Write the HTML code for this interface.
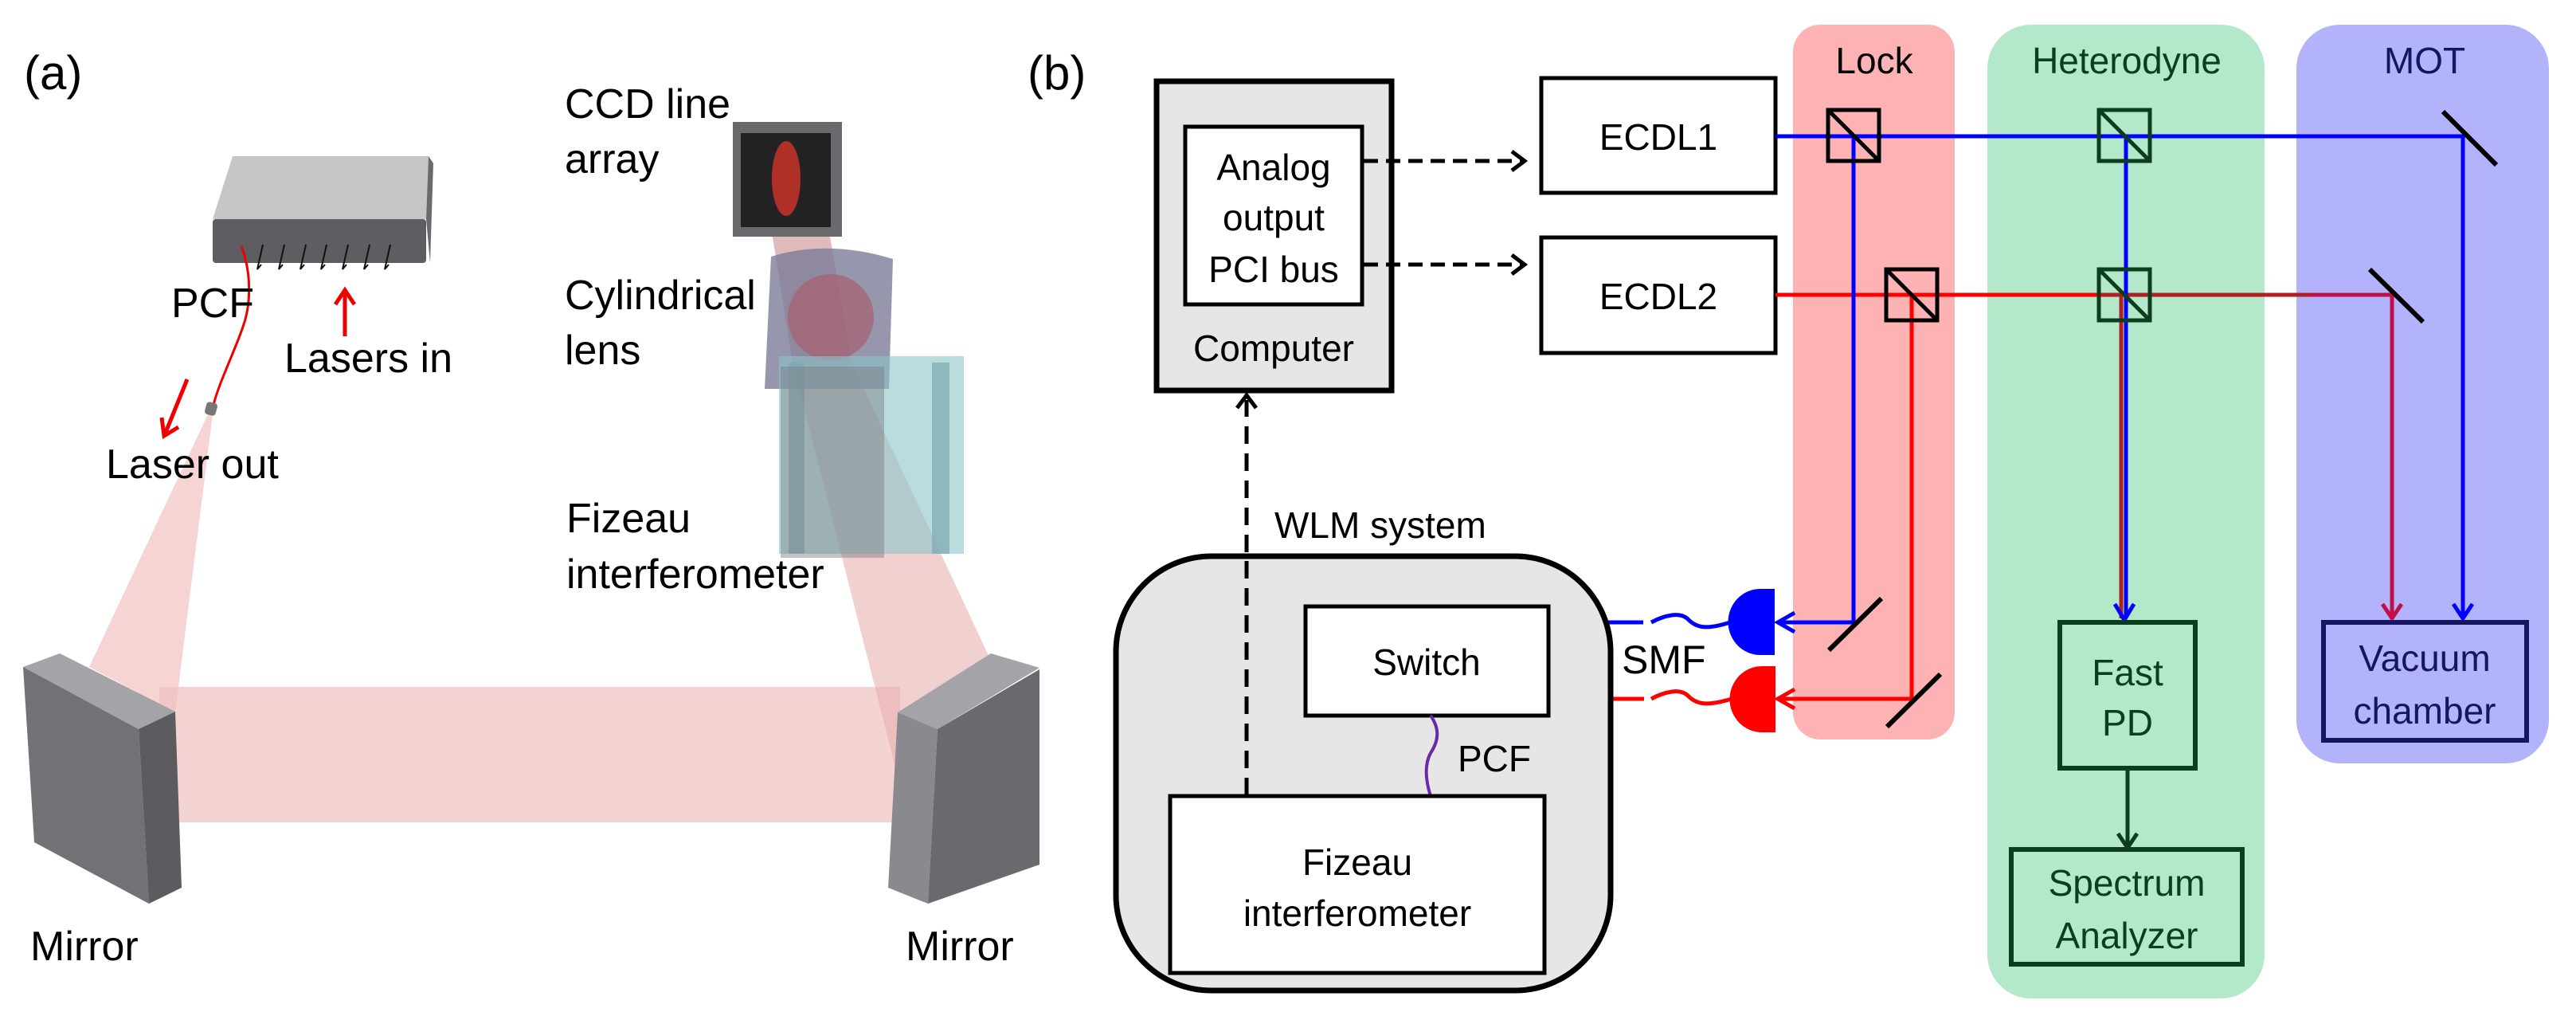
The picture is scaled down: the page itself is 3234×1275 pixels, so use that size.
<!DOCTYPE html>
<html><head><meta charset="utf-8"><style>
html,body{margin:0;padding:0;background:#fff;}
svg{display:block;}
text{font-family:"Liberation Sans",sans-serif;}
</style></head><body>
<svg width="3234" height="1275" viewBox="0 0 3234 1275" xmlns="http://www.w3.org/2000/svg">
<defs>
<marker id="ak" markerWidth="10" markerHeight="10" refX="8" refY="5" orient="auto" markerUnits="userSpaceOnUse" viewBox="0 0 10 10"></marker>
</defs>
<!-- ============ PANEL (a) ============ -->
<text x="30" y="112" font-size="60">(a)</text>
<!-- beams -->
<polygon points="261,520 268,512 220,894 112,837" fill="#f0b0b0" opacity="0.55"/>
<rect x="200" y="862" width="930" height="170" fill="#f0c0c0" opacity="0.7"/>
<polygon points="995,455 1069,455 1244,829 1123,959" fill="#e8b0b0" opacity="0.6"/>
<polygon points="968,285 1040,285 1069,455 995,455" fill="#c07878" opacity="0.5"/>
<!-- switch -->
<polygon points="292,196 538,196 535,275 267,275" fill="#c6c6c6"/>
<polygon points="538,196 544,205 540,330 535,275" fill="#6a6a6e"/>
<rect x="267" y="275" width="268" height="55" rx="4" fill="#5e5e62"/>
<g stroke="#111" stroke-width="2" fill="none">
<path d="M330,307 L323,338 L328,332"/><path d="M357,307 L350,338 L355,332"/><path d="M384,307 L377,338 L382,332"/><path d="M410,307 L403,338 L408,332"/><path d="M437,307 L430,338 L435,332"/><path d="M464,307 L457,338 L462,332"/><path d="M490,307 L483,338 L488,332"/>
</g>
<path d="M303,309 C315,340 316,380 305,410 C295,440 275,480 268,508" stroke="#e00" stroke-width="3" fill="none"/>
<rect x="258" y="505" width="14" height="16" rx="4" fill="#777" transform="rotate(15 265 513)"/>
<text x="215" y="398" font-size="52">PCF</text>
<path d="M433,422 L433,366 M421,382 L433,364 L445,382" stroke="#e00" stroke-width="5" fill="none"/>
<text x="357" y="467" font-size="52">Lasers in</text>
<path d="M235,476 L207,545 M203,524 L206,547 L224,536" stroke="#e00" stroke-width="5" fill="none"/>
<text x="133" y="600" font-size="52">Laser out</text>
<!-- mirrors -->
<polygon points="29,837 75,820 220,893 174,915" fill="#a4a4a8"/>
<polygon points="29,837 174,915 187,1134 43,1057" fill="#727276"/>
<polygon points="174,915 220,893 228,1114 187,1134" fill="#5c5c60"/>
<polygon points="1127,894 1244,820 1305,838 1177,915" fill="#a4a4a8"/>
<polygon points="1127,894 1177,915 1165,1134 1115,1114" fill="#8a8a8e"/>
<polygon points="1177,915 1305,840 1305,1085 1165,1134" fill="#6a6a6e"/>
<text x="38" y="1205" font-size="52">Mirror</text>
<text x="1137" y="1205" font-size="52">Mirror</text>
<!-- CCD -->
<rect x="920" y="153" width="137" height="144" fill="#6a6a6e"/>
<rect x="930" y="167" width="113" height="118" fill="#222"/>
<ellipse cx="987" cy="224" rx="18" ry="47" fill="#b03028"/>
<text x="709" y="148" font-size="52">CCD line</text>
<text x="709" y="217" font-size="52">array</text>
<!-- lens -->
<path d="M968,322 Q1040,300 1121,325 L1116,488 L960,488 Z" fill="#7c7c98" opacity="0.8"/>
<circle cx="1043" cy="398" r="54" fill="#a86070" opacity="0.7"/>
<text x="709" y="388" font-size="52">Cylindrical</text>
<text x="709" y="457" font-size="52">lens</text>
<!-- fizeau -->
<rect x="978" y="447" width="232" height="248" fill="#8cc4c8" opacity="0.6"/>
<rect x="990" y="455" width="20" height="240" fill="#7aa8b0" opacity="0.7"/>
<rect x="1170" y="455" width="22" height="240" fill="#7aa8b0" opacity="0.7"/>
<rect x="980" y="460" width="130" height="240" fill="#7a7a80" opacity="0.45"/>
<text x="711" y="668" font-size="52">Fizeau</text>
<text x="711" y="738" font-size="52">interferometer</text>

<!-- ============ PANEL (b) ============ -->
<text x="1290" y="112" font-size="60">(b)</text>
<!-- regions -->
<rect x="2251" y="31" width="203" height="897" rx="34" fill="#fdb3b3"/>
<rect x="2495" y="31" width="348" height="1222" rx="55" fill="#b3e8ca"/>
<rect x="2883" y="31" width="317" height="927" rx="55" fill="#b3b3fb"/>
<text x="2353" y="92" font-size="46" text-anchor="middle">Lock</text>
<text x="2670" y="92" font-size="46" text-anchor="middle" fill="#0c3d1c">Heterodyne</text>
<text x="3044" y="92" font-size="46" text-anchor="middle" fill="#161660">MOT</text>

<!-- computer -->
<rect x="1452" y="102" width="295" height="388" fill="#e6e6e6" stroke="#000" stroke-width="7"/>
<rect x="1488" y="159" width="222" height="223" fill="#fff" stroke="#000" stroke-width="5"/>
<g font-size="46" text-anchor="middle">
<text x="1599" y="226">Analog</text>
<text x="1599" y="289">output</text>
<text x="1599" y="354">PCI bus</text>
<text x="1599" y="453">Computer</text>
</g>
<g stroke="#000" stroke-width="5" fill="none">
<path d="M1712,202 L1912,202" stroke-dasharray="18 10"/>
<path d="M1898,190 L1914,202 L1898,214"/>
<path d="M1712,332 L1912,332" stroke-dasharray="18 10"/>
<path d="M1898,320 L1914,332 L1898,344"/>
<path d="M1565,999 L1565,502" stroke-dasharray="22 12"/>
<path d="M1553,512 L1565,496 L1577,512"/>
</g>
<!-- ECDL -->
<rect x="1935" y="98" width="294" height="144" fill="#fff" stroke="#000" stroke-width="5"/>
<rect x="1935" y="298" width="294" height="145" fill="#fff" stroke="#000" stroke-width="5"/>
<text x="2082" y="188" font-size="46" text-anchor="middle">ECDL1</text>
<text x="2082" y="388" font-size="46" text-anchor="middle">ECDL2</text>

<!-- beams -->
<g fill="none" stroke-width="5">
<path d="M2229,171 L3092,171 L3092,774" stroke="#0000ff"/>
<path d="M3080,758 L3092,776 L3104,758" stroke="#0000ff"/>
<path d="M2229,370 L2640,370" stroke="#ff0000"/>
<path d="M2640,370 L2900,370" stroke="#b02020"/>
<path d="M2900,370 L3003,370 L3003,774" stroke="#c0104a"/>
<path d="M2991,758 L3003,776 L3015,758" stroke="#c0104a"/>
<path d="M2663,370 L2663,776" stroke="#b02020"/>
<path d="M2669,171 L2669,776" stroke="#0000ff"/>
<path d="M2655,758 L2667,778 L2679,758" stroke="#0000ff"/>
<path d="M2327,171 L2327,781 L2232,781" stroke="#0000ff"/>
<path d="M2253,769 L2232,781 L2253,793" stroke="#0000ff"/>
<path d="M2400,370 L2400,877 L2232,877" stroke="#ff0000"/>
<path d="M2253,865 L2232,877 L2253,889" stroke="#ff0000"/>
<path d="M2671,964 L2671,1062" stroke="#0c3d1c"/>
<path d="M2659,1046 L2671,1064 L2683,1046" stroke="#0c3d1c"/>
</g>
<!-- beam splitters -->
<g fill="none" stroke-width="5">
<rect x="2295" y="138" width="64" height="64" stroke="#000"/><path d="M2295,138 L2359,202" stroke="#000"/>
<rect x="2368" y="338" width="64" height="64" stroke="#000"/><path d="M2368,338 L2432,402" stroke="#000"/>
<rect x="2635" y="138" width="64" height="64" stroke="#0c3d1c"/><path d="M2635,138 L2699,202" stroke="#0c3d1c"/>
<rect x="2635" y="338" width="64" height="64" stroke="#0c3d1c"/><path d="M2635,338 L2699,402" stroke="#0c3d1c"/>
</g>
<!-- mirrors -->
<g stroke="#000" stroke-width="6">
<path d="M3067,140 L3134,207"/>
<path d="M2975,338 L3042,404"/>
<path d="M2362,751 L2296,816"/>
<path d="M2436,846 L2369,912"/>
</g>
<!-- couplers -->
<path d="M2228,739 L2210,739 A40,41 0 0 0 2210,822 L2228,822 Z" fill="#0000ff"/>
<path d="M2229,836 L2212,836 A40,41 0 0 0 2212,919 L2229,919 Z" fill="#ff0000"/>
<g fill="none" stroke-width="5">
<path d="M2073,781 C2090,772 2108,768 2118,776 C2128,786 2138,792 2172,781" stroke="#0000ff"/>
<path d="M2073,877 C2090,868 2108,864 2118,872 C2128,882 2138,888 2174,877" stroke="#ff0000"/>
<path d="M1948,781 L2063,781" stroke="#0000ff"/>
<path d="M1968,769 L1948,781 L1968,793" stroke="#0000ff"/>
<path d="M1948,877 L2064,877" stroke="#ff0000"/>
<path d="M1968,865 L1948,877 L1968,889" stroke="#ff0000"/>
</g>
<text x="2036" y="845" font-size="50">SMF</text>
<!-- WLM -->
<text x="1600" y="675" font-size="46">WLM system</text>
<rect x="1401" y="698" width="621" height="545" rx="120" fill="#e6e6e6" stroke="#000" stroke-width="7"/>
<path d="M1565,998 L1565,700" stroke="#000" stroke-width="5" stroke-dasharray="22 12"/>
<rect x="1639" y="761" width="305" height="137" fill="#fff" stroke="#000" stroke-width="5"/>
<text x="1791" y="847" font-size="46" text-anchor="middle">Switch</text>
<path d="M1796,898 C1808,915 1806,930 1796,945 C1788,960 1790,980 1796,999" stroke="#6a2aa8" stroke-width="4" fill="none"/>
<text x="1830" y="968" font-size="46">PCF</text>
<rect x="1469" y="999" width="470" height="222" fill="#fff" stroke="#000" stroke-width="5"/>
<text x="1704" y="1098" font-size="46" text-anchor="middle">Fizeau</text>
<text x="1704" y="1162" font-size="46" text-anchor="middle">interferometer</text>
<!-- boxes in regions -->
<rect x="2586" y="781" width="170" height="183" fill="none" stroke="#0c3d1c" stroke-width="6"/>
<text x="2671" y="860" font-size="46" text-anchor="middle" fill="#0c3d1c">Fast</text>
<text x="2671" y="923" font-size="46" text-anchor="middle" fill="#0c3d1c">PD</text>
<rect x="2525" y="1066" width="290" height="144" fill="none" stroke="#0c3d1c" stroke-width="6"/>
<text x="2670" y="1124" font-size="46" text-anchor="middle" fill="#0c3d1c">Spectrum</text>
<text x="2670" y="1190" font-size="46" text-anchor="middle" fill="#0c3d1c">Analyzer</text>
<rect x="2917" y="781" width="255" height="148" fill="none" stroke="#161660" stroke-width="6"/>
<text x="3044" y="842" font-size="46" text-anchor="middle" fill="#161660">Vacuum</text>
<text x="3044" y="908" font-size="46" text-anchor="middle" fill="#161660">chamber</text>
</svg>
</body></html>
